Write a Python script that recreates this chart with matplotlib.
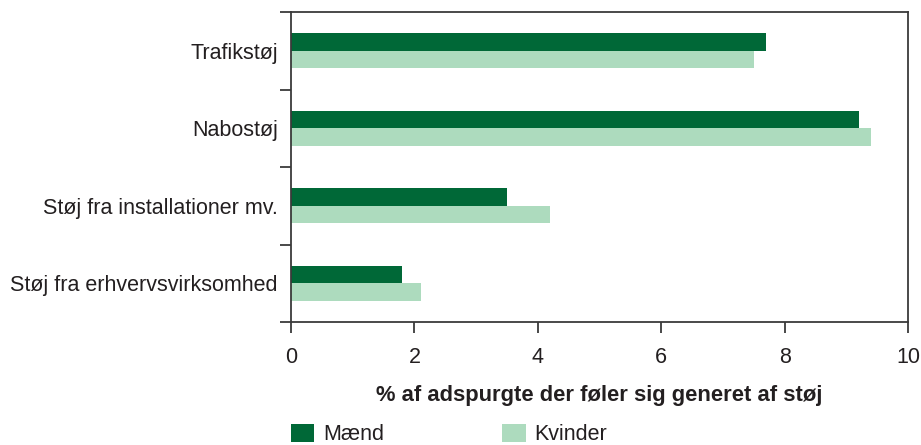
import matplotlib.pyplot as plt
import numpy as np

plt.rcParams['font.family'] = ['Liberation Sans', 'DejaVu Sans']

categories = ['Trafikstøj', 'Nabostøj', 'Støj fra installationer mv.', 'Støj fra erhvervsvirksomhed']
maend = [7.7, 9.2, 3.5, 1.8]
kvinder = [7.5, 9.4, 4.2, 2.1]
xticks = [0, 2, 4, 6, 8, 10]

dark = '#006837'
light = '#addbbe'
txt = '#231f20'
spine = '#3a3a3a'
fs = 15.5

fig = plt.figure(figsize=(9.21, 4.45), dpi=100)
ax = fig.add_axes([291/921, 1 - 322/445, (908 - 291)/921, (322 - 12)/445])

y = np.arange(len(categories))
h = 0.225
ax.barh(y - h/2, maend, height=h, color=dark, label='Mænd')
ax.barh(y + h/2, kvinder, height=h, color=light, label='Kvinder')

ax.set_ylim(len(categories) - 0.5, -0.5)
ax.set_xlim(0, 10)
ax.set_xticks(xticks)
ax.set_xticklabels([str(v) for v in xticks], fontsize=fs, color=txt)
ax.set_yticks(y)
ax.set_yticklabels(categories, fontsize=fs, color=txt)
ax.tick_params(axis='y', which='major', length=0, pad=9.5)
ax.set_yticks(np.arange(-0.5, len(categories), 1), minor=True)
ax.tick_params(axis='y', which='minor', length=8, width=1.3, color=spine)
ax.tick_params(axis='x', length=8, width=1.3, color=spine, pad=10)

for s in ax.spines.values():
    s.set_color(spine)
    s.set_linewidth(1.3)

ax.set_xlabel('% af adspurgte der føler sig generet af støj', fontsize=15.8,
              fontweight='bold', color=txt, labelpad=12)

# legend sits at the very bottom edge, kept just inside the canvas
fig.legend(loc='upper left', bbox_to_anchor=(291/921, 1 - 424/445), ncol=2,
           frameon=False, fontsize=fs, borderpad=0, borderaxespad=0,
           handlelength=1.07, handleheight=0.9, handletextpad=0.42,
           columnspacing=5.5, labelcolor=txt)

fig.savefig('out.png', dpi=100)
